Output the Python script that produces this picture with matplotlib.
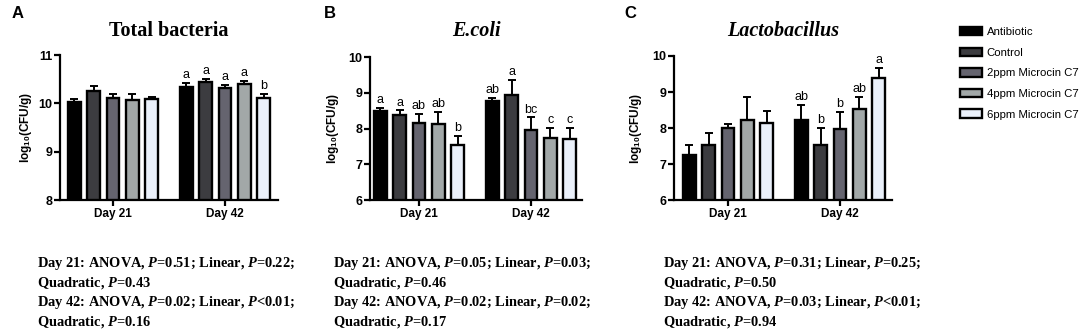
import matplotlib
matplotlib.use("Agg")
import matplotlib.pyplot as plt
import numpy as np
from matplotlib.patches import Patch

plt.rcParams['font.family'] = ['Liberation Sans', 'DejaVu Sans']
plt.rcParams['mathtext.fontset'] = 'custom'
plt.rcParams['mathtext.rm'] = 'Liberation Sans:bold'
plt.rcParams['mathtext.it'] = 'Liberation Serif:italic:bold'
plt.rcParams['mathtext.bf'] = 'Liberation Sans:bold'

groups = ["Antibiotic", "Control", "2ppm Microcin C7", "4ppm Microcin C7", "6ppm Microcin C7"]
days = ["Day 21", "Day 42"]
colors = ["#000000", "#3c3c40", "#65646f", "#a2a8a8", "#eaf0fa"]

# Total bacteria
tb_mean = [[10.03, 10.25, 10.12, 10.07, 10.09], [10.33, 10.44, 10.32, 10.41, 10.12]]
tb_err = [[0.07, 0.10, 0.08, 0.13, 0.04], [0.09, 0.07, 0.06, 0.06, 0.07]]
tb_let = [["", "", "", "", ""], ["a", "a", "a", "a", "b"]]

# E.coli
ec_mean = [[8.48, 8.37, 8.15, 8.13, 7.55], [8.77, 8.95, 7.97, 7.73, 7.71]]
ec_err = [[0.10, 0.14, 0.25, 0.33, 0.25], [0.08, 0.42, 0.34, 0.29, 0.31]]
ec_let = [["a", "a", "ab", "ab", "b"], ["ab", "a", "bc", "c", "c"]]

# Lactobacillus
lb_mean = [[7.26, 7.52, 8.00, 8.21, 8.14], [8.21, 7.53, 7.98, 8.54, 9.39]]
lb_err = [[0.27, 0.34, 0.11, 0.66, 0.33], [0.44, 0.47, 0.46, 0.33, 0.29]]
lb_let = [["", "", "", "", ""], ["ab", "b", "b", "ab", "a"]]

panels = [
    ("A", "Total bacteria", "normal", tb_mean, tb_err, tb_let, (8, 11), [8, 9, 10, 11]),
    ("B", "E.coli", "italic", ec_mean, ec_err, ec_let, (6, 10), [6, 7, 8, 9, 10]),
    ("C", "Lactobacillus", "italic", lb_mean, lb_err, lb_let, (6, 10), [6, 7, 8, 9, 10]),
]

stats = [
    ["Day 21: ANOVA, $\\mathit{P}$=0.51; Linear, $\\mathit{P}$=0.22;",
     "Quadratic, $\\mathit{P}$=0.43",
     "Day 42: ANOVA, $\\mathit{P}$=0.02; Linear, $\\mathit{P}$<0.01;",
     "Quadratic, $\\mathit{P}$=0.16"],
    ["Day 21: ANOVA, $\\mathit{P}$=0.05; Linear, $\\mathit{P}$=0.03;",
     "Quadratic, $\\mathit{P}$=0.46",
     "Day 42: ANOVA, $\\mathit{P}$=0.02; Linear, $\\mathit{P}$=0.02;",
     "Quadratic, $\\mathit{P}$=0.17"],
    ["Day 21: ANOVA, $\\mathit{P}$=0.31; Linear, $\\mathit{P}$=0.25;",
     "Quadratic, $\\mathit{P}$=0.50",
     "Day 42: ANOVA, $\\mathit{P}$=0.03; Linear, $\\mathit{P}$<0.01;",
     "Quadratic, $\\mathit{P}$=0.94"],
]

W, H = 1084, 332
fig = plt.figure(figsize=(W / 100, H / 100), dpi=100)

# axes pixel boxes: left, right, top, bottom
boxes = [(60, 278, 55, 200), (370, 582, 57, 200), (674, 892, 56, 200)]
letter_x = [18, 330, 630]
ylabel_x = [26, 333, 636]
stats_x = [37, 333, 663]

spacing = 0.173
width = 0.112
for i, (lab, title, style, mean, err, let, ylim, yt) in enumerate(panels):
    l, r, t, b = boxes[i]
    ax = fig.add_axes([l / W, 1 - b / H, (r - l) / W, (b - t) / H])
    for d in range(2):
        for k in range(5):
            x = d + (k - 2) * spacing
            ax.bar(x, mean[d][k] - ylim[0], bottom=ylim[0], width=width, color=colors[k],
                   edgecolor="black", linewidth=1.7, zorder=3)
            ax.errorbar(x, mean[d][k], yerr=[[0], [err[d][k]]], fmt="none", ecolor="black",
                        elinewidth=1.4, capsize=3.2, capthick=1.4, zorder=2)
            if let[d][k]:
                ax.text(x, mean[d][k] + err[d][k] + (ylim[1] - ylim[0]) * 0.012, let[d][k],
                        ha="center", va="bottom", fontsize=9, zorder=4)
    pxu = 112.0
    day21_px = {0: 113, 1: 419, 2: 728}[i]
    ax.set_xlim((l - day21_px) / pxu, (r - day21_px) / pxu)
    ax.set_ylim(*ylim)
    ax.set_yticks(yt)
    ax.set_yticklabels([str(v) for v in yt], fontweight="bold", fontsize=9)
    ax.set_xticks([0, 1])
    ax.set_xticklabels(days, fontweight="bold", fontsize=8.5)
    for s in ["top", "right"]:
        ax.spines[s].set_visible(False)
    for s in ["left", "bottom"]:
        ax.spines[s].set_linewidth(1.6)
    ax.tick_params(axis="both", width=1.6, length=4, pad=1.5)
    fig.text(ylabel_x[i] / W, 1 - ((t + b) / 2) / H, "log$_{\\mathrm{10}}$(CFU/g)", rotation=90,
             ha="center", va="center", fontsize=8.5, fontweight="bold")
    fig.text(((l + r) / 2) / W, 1 - 36 / H, title, ha="center", va="baseline",
             fontsize=14.5, fontweight="bold", fontstyle=style,
             family=["Liberation Serif", "DejaVu Serif"])
    fig.text(letter_x[i] / W, 1 - 13 / H, lab, ha="center", va="center",
             fontsize=12, fontweight="bold")
    for j, line in enumerate(stats[i]):
        fig.text(stats_x[i] / W, 1 - (266.5 + 19.6 * j) / H, line, ha="left", va="baseline",
                 fontsize=10.4, fontweight="bold", family=["Liberation Serif", "DejaVu Serif"])

handles = [Patch(facecolor=c, edgecolor="black", linewidth=1.7) for c in colors]
fig.legend(handles, groups, loc="upper left", bbox_to_anchor=(960 / W, 1 - 27 / H),
           frameon=False, fontsize=8.2, handlelength=1.9, handleheight=0.75,
           labelspacing=0.92, handletextpad=0.45, borderaxespad=0, borderpad=0)

fig.savefig("out.png", dpi=100)
